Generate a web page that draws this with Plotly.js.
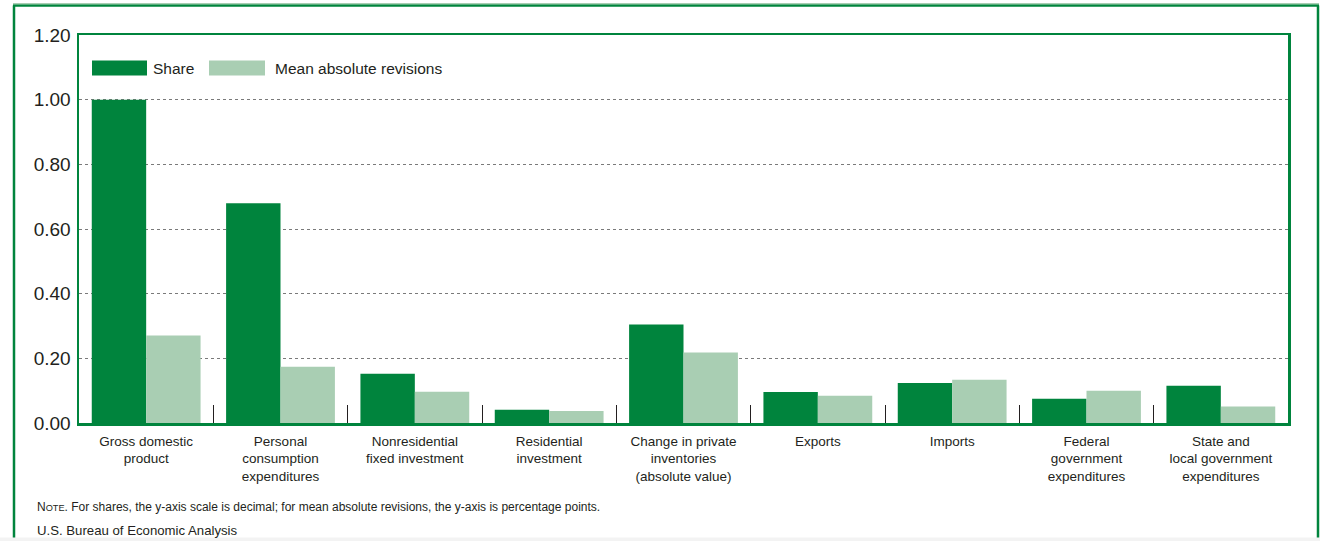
<!DOCTYPE html>
<html>
<head>
<meta charset="utf-8">
<script src="https://cdn.plot.ly/plotly-3.0.1.min.js"></script>
<style>
  html, body { margin: 0; padding: 0; background: #ffffff; }
  #chart { width: 1320px; height: 541px; }
</style>
</head>
<body>
<div id="chart"></div>
<script>
// ---- Data ----
const categories = [
  "Gross domestic<br>product",
  "Personal<br>consumption<br>expenditures",
  "Nonresidential<br>fixed investment",
  "Residential<br>investment",
  "Change in private<br>inventories<br>(absolute value)",
  "Exports",
  "Imports",
  "Federal<br>government<br>expenditures",
  "State and<br>local government<br>expenditures"
];
const shareValues = [1.00, 0.68, 0.152, 0.041, 0.305, 0.096, 0.124, 0.075, 0.115];
const revisionValues = [0.271, 0.174, 0.097, 0.037, 0.218, 0.084, 0.134, 0.100, 0.051];
const seriesNames = ["Share", "Mean absolute revisions"];
const yTickValues = [0, 0.2, 0.4, 0.6, 0.8, 1.0, 1.2];
const noteText = "N<span style=\"font-size:9.2px\">OTE</span>. For shares, the y-axis scale is decimal; for mean absolute revisions, the y-axis is percentage points.";
const sourceText = "U.S. Bureau of Economic Analysis";

// ---- Style ----
const DARK = "#00843D";
const LIGHT = "#A9CEB3";
const TEXT = "#231F20";
const FONT = "\"Liberation Sans\", Arial, Helvetica, sans-serif";

const W = 1320, H = 541;
const M = { l: 79, r: 32, t: 35, b: 118 };
const PW = W - M.l - M.r, PH = H - M.t - M.b;
const px = x => (x - M.l) / PW;
const py = y => (H - M.b - y) / PH;

const traces = [
  { type: "bar", name: seriesNames[0], x: categories, y: shareValues,
    marker: { color: DARK, line: { width: 0 } }, hoverinfo: "y" },
  { type: "bar", name: seriesNames[1], x: categories, y: revisionValues,
    marker: { color: LIGHT, line: { width: 0 } }, hoverinfo: "y" }
];

const shapes = [
  // outer frame
  { type: "line", xref: "paper", yref: "paper", x0: px(14), x1: px(14), y0: py(5.5), y1: py(545), line: { color: DARK, width: 2.5 } },
  { type: "line", xref: "paper", yref: "paper", x0: px(13), x1: px(1319), y0: py(5.5), y1: py(5.5), line: { color: DARK, width: 2.5 } },
  { type: "line", xref: "paper", yref: "paper", x0: px(13), x1: px(1319), y0: py(3.6), y1: py(3.6), line: { color: LIGHT, width: 1.2 } },
  { type: "line", xref: "paper", yref: "paper", x0: px(1318), x1: px(1318), y0: py(5.5), y1: py(545), line: { color: DARK, width: 2.5 } },
  // faint strip at the bottom edge
  { type: "rect", xref: "paper", yref: "paper", x0: px(0), x1: px(1320), y0: py(537.5), y1: py(541), fillcolor: "#f3f3f3", line: { width: 0 } },
  // legend swatches
  { type: "rect", xref: "paper", yref: "paper", x0: px(92), x1: px(147), y0: py(60.5), y1: py(75.5), fillcolor: DARK, line: { width: 0 } },
  { type: "rect", xref: "paper", yref: "paper", x0: px(209), x1: px(265), y0: py(60.5), y1: py(75.5), fillcolor: LIGHT, line: { width: 0 } }
];

const annotations = [
  { xref: "paper", yref: "paper", x: px(151), y: py(68), xanchor: "left", yanchor: "middle", showarrow: false,
    text: seriesNames[0], font: { family: FONT, size: 15.5, color: TEXT } },
  { xref: "paper", yref: "paper", x: px(273), y: py(68), xanchor: "left", yanchor: "middle", showarrow: false,
    text: seriesNames[1], font: { family: FONT, size: 15.5, color: TEXT } },
  { xref: "paper", yref: "paper", x: px(35), y: py(507), xanchor: "left", yanchor: "middle", showarrow: false,
    text: noteText, font: { family: FONT, size: 12, color: TEXT } },
  { xref: "paper", yref: "paper", x: px(35), y: py(530), xanchor: "left", yanchor: "middle", showarrow: false,
    text: sourceText, font: { family: FONT, size: 13.2, color: TEXT } }
];

const layout = {
  width: W, height: H,
  margin: M,
  paper_bgcolor: "#ffffff", plot_bgcolor: "#ffffff",
  barmode: "group", bargap: 0.19, bargroupgap: 0,
  showlegend: false,
  xaxis: {
    type: "category",
    showline: true, mirror: true, linecolor: DARK, linewidth: 2.5,
    showgrid: false, zeroline: false,
    tickson: "boundaries", ticks: "inside", ticklen: 18, tickwidth: 1, tickcolor: TEXT,
    tickangle: 0,
    tickfont: { family: FONT, size: 13.5, color: TEXT },
    ticklabelstandoff: 4,
    fixedrange: true
  },
  yaxis: {
    range: [0, 1.2], tickvals: yTickValues, tickformat: ".2f",
    showline: true, mirror: true, linecolor: DARK, linewidth: 2.5,
    showgrid: true, gridcolor: "#7a7a7a", gridwidth: 1, griddash: "dot",
    zeroline: false, ticks: "",
    tickfont: { family: FONT, size: 19, color: TEXT },
    ticklabelstandoff: 2,
    fixedrange: true
  },
  shapes: shapes,
  annotations: annotations
};

Plotly.newPlot("chart", traces, layout, { displayModeBar: false, staticPlot: true });
</script>
</body>
</html>
